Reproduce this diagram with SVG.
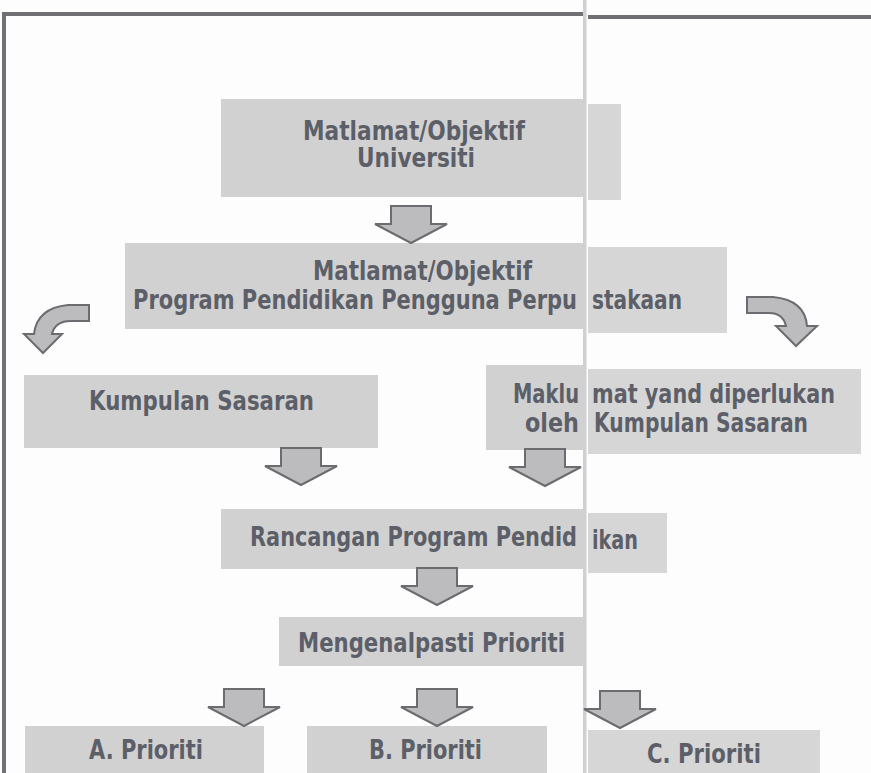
<svg xmlns="http://www.w3.org/2000/svg" xmlns:xlink="http://www.w3.org/1999/xlink" width="871" height="773" viewBox="0 0 871 773">
<defs>
<style>
.bx{fill:#d1d1d2}
.bxr{fill:#d6d6d7}
.t{font-family:"DejaVu Sans","Liberation Sans",sans-serif;font-weight:bold;font-size:26px;fill:#5c5f67}
.ar{fill:#bcbcbe;stroke:#6c6c70;stroke-width:2;stroke-linejoin:miter}
.frame{fill:#707074}
</style>
<path id="dn" d="M -20 0 H 20 V 18 H 36 L 0 37 L -36 18 H -20 Z"/>
</defs>
<rect width="871" height="773" fill="#fdfdfd"/>
<!-- page frame and fold -->
<rect class="frame" x="2" y="12" width="581" height="4"/>
<rect class="frame" x="2" y="12" width="4" height="761"/>
<rect class="frame" x="588" y="15" width="283" height="4"/>
<rect x="583" y="0" width="4" height="773" fill="#cfd0d2"/>
<rect x="586" y="0" width="1" height="773" fill="#e6e7e8"/>

<g id="node-universiti">
<rect class="bx" x="221" y="99" width="362" height="98"/>
<rect class="bxr" x="588" y="104" width="33" height="96"/>
<text class="t" x="303" y="140" textLength="222" lengthAdjust="spacingAndGlyphs">Matlamat/Objektif</text>
<text class="t" x="357" y="167" textLength="118" lengthAdjust="spacingAndGlyphs">Universiti</text>
</g>

<g id="node-program">
<rect class="bx" x="125" y="243" width="458" height="86"/>
<rect class="bxr" x="588" y="247" width="139" height="86"/>
<text class="t" x="313" y="280" textLength="219" lengthAdjust="spacingAndGlyphs">Matlamat/Objektif</text>
<text class="t" x="133" y="309" textLength="444" lengthAdjust="spacingAndGlyphs">Program Pendidikan Pengguna Perpu</text>
<text class="t" x="592" y="309" textLength="90" lengthAdjust="spacingAndGlyphs">stakaan</text>
</g>

<g id="node-kumpulan">
<rect class="bx" x="24" y="375" width="354" height="73"/>
<text class="t" x="89" y="410" textLength="225" lengthAdjust="spacingAndGlyphs">Kumpulan Sasaran</text>
</g>

<g id="node-maklumat">
<rect class="bx" x="486" y="365" width="97" height="85"/>
<rect class="bxr" x="588" y="369" width="273" height="85"/>
<text class="t" x="513" y="403" textLength="66" lengthAdjust="spacingAndGlyphs">Maklu</text>
<text class="t" x="592" y="403" textLength="243" lengthAdjust="spacingAndGlyphs">mat yand diperlukan</text>
<text class="t" x="525" y="432" textLength="54" lengthAdjust="spacingAndGlyphs">oleh</text>
<text class="t" x="594" y="432" textLength="214" lengthAdjust="spacingAndGlyphs">Kumpulan Sasaran</text>
</g>

<g id="node-rancangan">
<rect class="bx" x="221" y="509" width="362" height="60"/>
<rect class="bxr" x="588" y="513" width="79" height="60"/>
<text class="t" x="250" y="546" textLength="327" lengthAdjust="spacingAndGlyphs">Rancangan Program Pendid</text>
<text class="t" x="592" y="549" textLength="46" lengthAdjust="spacingAndGlyphs">ikan</text>
</g>

<g id="node-mengenalpasti">
<rect class="bx" x="279" y="617" width="304" height="49"/>
<text class="t" x="298" y="652" textLength="267" lengthAdjust="spacingAndGlyphs">Mengenalpasti Prioriti</text>
</g>

<g id="node-a">
<rect class="bx" x="25" y="726" width="239" height="47"/>
<text class="t" x="89" y="759" textLength="114" lengthAdjust="spacingAndGlyphs">A. Prioriti</text>
</g>
<g id="node-b">
<rect class="bx" x="307" y="726" width="240" height="47"/>
<text class="t" x="369" y="759" textLength="113" lengthAdjust="spacingAndGlyphs">B. Prioriti</text>
</g>
<g id="node-c">
<rect class="bxr" x="588" y="730" width="232" height="43"/>
<text class="t" x="647" y="763" textLength="114" lengthAdjust="spacingAndGlyphs">C. Prioriti</text>
</g>

<g id="connectors">
<use xlink:href="#dn" href="#dn" class="ar" x="411" y="206"/>
<path class="ar" d="M 89 305 L 68 305 Q 37 308 34 334 L 24 334 L 43 353 L 62 334 L 52 334 Q 55 321 71 321 L 89 321 Z"/>
<path class="ar" d="M 747 297 L 773 297 Q 805 300 807 326 L 817 326 L 796 346 L 776 326 L 786 326 Q 783 313 769 313 L 747 313 Z"/>
<use xlink:href="#dn" href="#dn" class="ar" x="301" y="448"/>
<use xlink:href="#dn" href="#dn" class="ar" x="545" y="449"/>
<use xlink:href="#dn" href="#dn" class="ar" x="437" y="568"/>
<use xlink:href="#dn" href="#dn" class="ar" x="244" y="689"/>
<use xlink:href="#dn" href="#dn" class="ar" x="437" y="689"/>
<use xlink:href="#dn" href="#dn" class="ar" x="620" y="691"/>
</g>
</svg>
